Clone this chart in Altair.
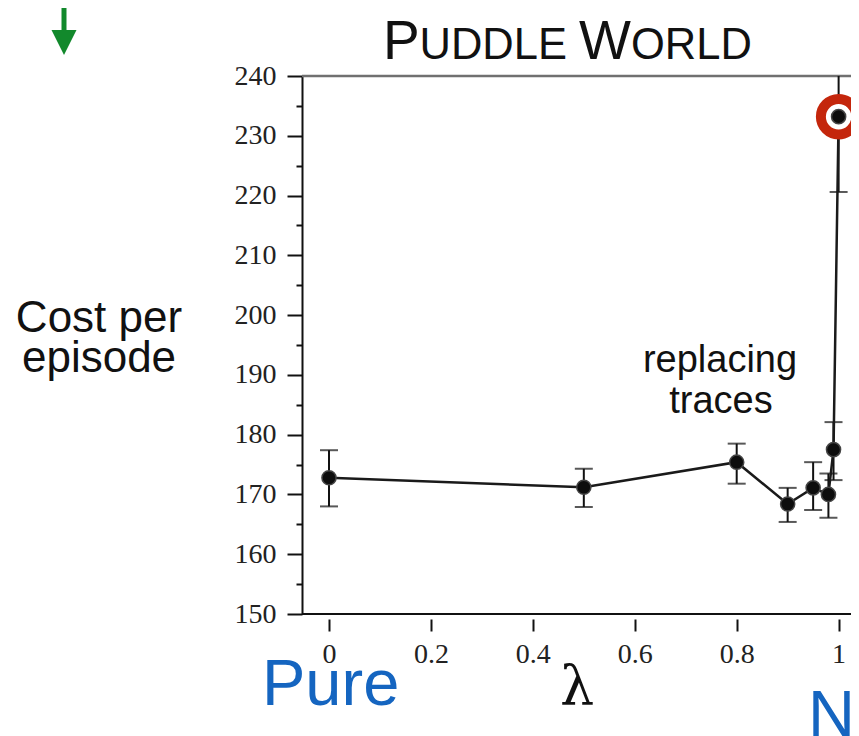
import altair as alt
import pandas as pd

# ---- data ----
lam = [0.0, 0.5, 0.8, 0.9, 0.95, 0.98, 0.99, 1.0]
cost = [172.8, 171.2, 175.4, 168.4, 171.1, 170.0, 177.5, 233.2]
err_lo = [168.0, 167.9, 171.8, 165.4, 167.4, 166.1, 172.4, 220.6]
err_hi = [177.4, 174.3, 178.5, 171.1, 175.4, 173.5, 182.1, 245.8]
highlight_lam = [1.0]
highlight_cost = [233.2]
x_ticks = [0, 0.2, 0.4, 0.6, 0.8, 1]
y_ticks = list(range(150, 241, 5))

df = pd.DataFrame({"lam": lam, "cost": cost, "lo": err_lo, "hi": err_hi})
hl = pd.DataFrame({"lam": highlight_lam, "cost": highlight_cost})

W, H = 549, 538
INK = "#111111"
GREEN = "#12892C"
BLUE = "#1565C0"
RED = "#C4260C"

xscale = alt.Scale(domain=[-0.053, 1.0243], nice=False, zero=False)
yscale = alt.Scale(domain=[150, 240], nice=False, zero=False)

xaxis = alt.Axis(values=x_ticks, format="~g", offset=5, domain=False,
                 tickSize=12, tickWidth=2, tickColor=INK,
                 labelFont="Liberation Serif", labelFontSize=28, labelColor="#222",
                 labelPadding=9, grid=False, title=None)
yaxis = alt.Axis(values=y_ticks,
                 tickSize={"condition": {"test": "datum.value % 10 === 0", "value": 15}, "value": 6},
                 labelExpr="datum.value % 10 === 0 ? datum.label : ''",
                 domainColor=INK, domainWidth=2, tickWidth=2, tickColor=INK,
                 labelFont="Liberation Serif", labelFontSize=28, labelColor="#222",
                 labelPadding=11, grid=False, title=None)

X = alt.X("lam:Q", scale=xscale, axis=xaxis)
base = alt.Chart(df)

one = alt.InlineData(values=[{}])

top_border = alt.Chart(one).mark_rule(color="#707070", strokeWidth=2.5).encode(
    y=alt.Y(datum=240, scale=yscale, axis=yaxis), x=alt.value(0), x2=alt.value(W))
bottom_border = alt.Chart(one).mark_rule(color=INK, strokeWidth=2).encode(
    y=alt.Y(datum=150, scale=yscale, axis=yaxis), x=alt.value(0), x2=alt.value(W))

errbars = base.mark_rule(color=INK, strokeWidth=2, clip=True).encode(
    x=X, y=alt.Y("lo:Q", scale=yscale, axis=yaxis), y2="hi:Q")
cap_lo = base.mark_tick(color=INK, thickness=2, size=18, orient="horizontal", clip=True).encode(
    x=X, y=alt.Y("lo:Q", scale=yscale, axis=yaxis))
cap_hi = base.mark_tick(color=INK, thickness=2, size=18, orient="horizontal", clip=True).encode(
    x=X, y=alt.Y("hi:Q", scale=yscale, axis=yaxis))
line = base.mark_line(color="#1a1a1a", strokeWidth=2.5).encode(
    x=X, y=alt.Y("cost:Q", scale=yscale, axis=yaxis))
ring = alt.Chart(hl).mark_point(shape="circle", size=1257, filled=True, fill="white",
                                stroke=RED, strokeWidth=10, opacity=1).encode(
    x=alt.X("lam:Q", scale=xscale, axis=xaxis), y=alt.Y("cost:Q", scale=yscale, axis=yaxis))
points = base.mark_circle(size=200, color="#0d0d0d", opacity=1, stroke="#444444",
                          strokeWidth=1.5).encode(
    x=X, y=alt.Y("cost:Q", scale=yscale, axis=yaxis))


def txt(s, x, y, size, font="Liberation Sans", color=INK, align="left"):
    return alt.Chart(one).mark_text(text=s, font=font, fontSize=size, color=color,
                                    align=align, baseline="alphabetic").encode(
        x=alt.value(x), y=alt.value(y))


texts = [
    txt("P", 81, -17, 55),
    txt("UDDLE", 117.5, -17, 43.5),
    txt("W", 277, -17, 55),
    txt("ORLD", 329, -17, 43.5),
    txt("Cost per", -203, 256, 44, align="center"),
    txt("episode", -203, 296, 44, align="center"),
    txt("replacing", 418, 296, 38, align="center"),
    txt("traces", 419, 337, 38, align="center"),
    txt("Pure", -40, 629, 65, color=BLUE),
    txt("λ", 275, 628, 54, font="DejaVu Serif", align="center"),
    txt("No", 506, 660, 65, color=BLUE),
]

arrow_shaft = alt.Chart(one).mark_rule(color=GREEN, strokeWidth=5).encode(
    x=alt.value(-238), y=alt.value(-68), y2=alt.value(-43))
arrow_head = alt.Chart(one).mark_point(shape="M-1,-1L1,-1L0,1Z", size=625, filled=True,
                                       color=GREEN, opacity=1).encode(
    x=alt.value(-238), y=alt.value(-33.5))

chart = alt.layer(
    top_border, bottom_border, errbars, cap_lo, cap_hi, line, ring, points,
    *texts, arrow_shaft, arrow_head
).properties(
    width=W, height=H,
    padding={"left": 294, "top": 68, "right": 0, "bottom": 122},
    autosize=alt.AutoSizeParams(type="none"),
).configure_view(stroke=None).configure(background="white")

chart.save("out.html", embed_options={"renderer": "svg", "actions": False})
